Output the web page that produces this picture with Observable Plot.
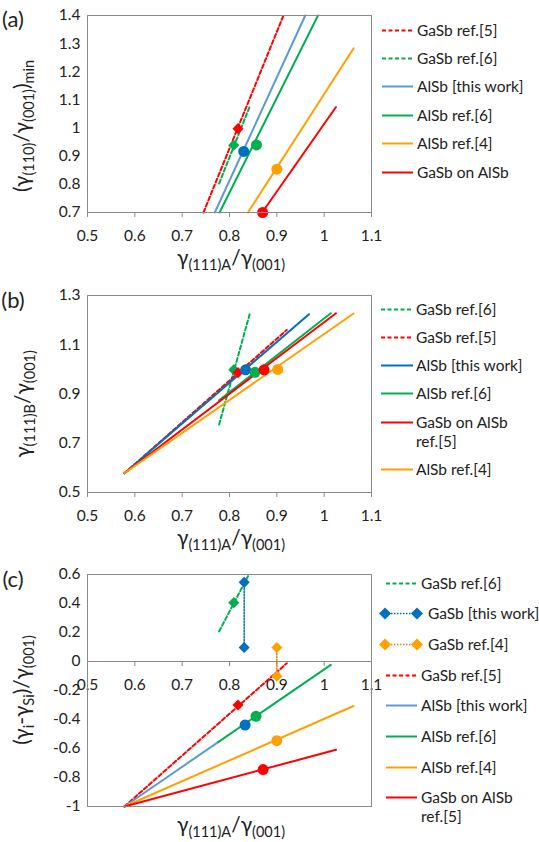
<!DOCTYPE html>
<html><head><meta charset="utf-8">
<script src="https://cdn.jsdelivr.net/npm/d3@7"></script>
<script src="https://cdn.jsdelivr.net/npm/@observablehq/plot@0.6"></script>
<style>
body{margin:0;background:#fff;font-family:Lato,"Liberation Sans",sans-serif;}
#root{position:relative;width:539px;height:842px;overflow:hidden;background:#fff}
.panel{position:absolute;left:0}
.item{position:absolute;display:flex;align-items:flex-start;white-space:nowrap;font-size:15.5px;line-height:19px;color:#222}
.item svg{flex:none}
</style></head><body><div id="root"></div>
<script>
// ---------- data ----------
const xTicks = [0.5, 0.6, 0.7, 0.8, 0.9, 1, 1.1];
const yTicksA = [0.7, 0.8, 0.9, 1, 1.1, 1.2, 1.3, 1.4];
const yTicksB = [0.5, 0.7, 0.9, 1.1, 1.3];
const yTicksC = [-1, -0.8, -0.6, -0.4, -0.2, 0, 0.2, 0.4, 0.6];

// panel (a)
const seriesA = ["GaSb ref.[5]", "GaSb ref.[6]", "AlSb [this work]", "AlSb ref.[6]", "AlSb ref.[4]", "GaSb on AlSb"];
const linesA = [[0.745, 0.70, 0.914, 1.40], [0.778, 0.803, 0.843, 1.078], [0.769, 0.70, 0.960, 1.40], [0.779, 0.70, 0.987, 1.40], [0.839, 0.70, 1.062, 1.283], [0.869, 0.70, 1.025, 1.075]];
const pointsA = [[[0.818, 0.998]], [[0.809, 0.939]], [[0.830, 0.917]], [[0.857, 0.940]], [[0.900, 0.854]], [[0.870, 0.700]]];

// panel (b)
const seriesB = ["GaSb ref.[6]", "GaSb ref.[5]", "AlSb [this work]", "AlSb ref.[6]", "GaSb on AlSb ref.[5]", "AlSb ref.[4]"];
const linesB = [[0.778, 0.776, 0.843, 1.227], [0.578, 0.578, 0.921, 1.160], [0.578, 0.578, 0.968, 1.224], [0.778, 0.874, 1.014, 1.228], [0.578, 0.578, 1.025, 1.228], [0.578, 0.578, 1.062, 1.227]];
const pointsB = [[[0.809, 0.998]], [[0.818, 0.987]], [[0.834, 0.998]], [[0.854, 0.988]], [[0.873, 0.998]], [[0.902, 1.000]]];

// panel (c)
const seriesC = ["GaSb ref.[6]", "GaSb [this work]", "GaSb ref.[4]", "GaSb ref.[5]", "AlSb [this work]", "AlSb ref.[6]", "AlSb ref.[4]", "GaSb on AlSb ref.[5]"];
const linesC = [[0.778, 0.2075, 0.841, 0.60], [0.831, 0.546, 0.831, 0.097], [0.900, 0.097, 0.900, -0.101], [0.578, -1, 0.921, -0.012], [0.578, -1, 0.776, -0.556], [0.776, -0.556, 1.014, -0.023], [0.578, -1, 1.062, -0.307], [0.578, -1, 1.025, -0.609]];
const pointsC = [[[0.809, 0.406]], [[0.831, 0.546], [0.831, 0.097]], [[0.900, 0.097], [0.900, -0.101]], [[0.818, -0.300]], [[0.833, -0.438]], [[0.856, -0.378]], [[0.900, -0.546]], [[0.871, -0.745]]];

// ---------- styles ----------
const RED = "#ff0000", GREEN = "#00b050", LBLUE = "#5b9bd5", DBLUE = "#0070c0", ORANGE = "#ffa000";
const style = {
  "GaSb ref.[5]": {stroke: RED, dash: "4,2.5", fill: RED, symbol: "diamond2", kind: "dash"},
  "GaSb ref.[6]": {stroke: GREEN, dash: "4,2.5", fill: GREEN, symbol: "diamond2", kind: "dash"},
  "AlSb [this work]": {stroke: LBLUE, fill: DBLUE, symbol: "circle", kind: "line"},
  "AlSb ref.[6]": {stroke: GREEN, fill: GREEN, symbol: "circle", kind: "line"},
  "AlSb ref.[4]": {stroke: ORANGE, fill: ORANGE, symbol: "circle", kind: "line"},
  "GaSb on AlSb": {stroke: RED, fill: RED, symbol: "circle", kind: "line"},
  "GaSb on AlSb ref.[5]": {stroke: RED, fill: RED, symbol: "circle", kind: "line"},
  "GaSb [this work]": {stroke: DBLUE, dash: "1.5,1.5", width: 1.5, fill: DBLUE, symbol: "diamond2", kind: "dia"},
  "GaSb ref.[4]": {stroke: "#d98c00", dash: "1.5,1.5", width: 1.5, fill: ORANGE, symbol: "diamond2", kind: "dia"}
};
const overrideB = {"AlSb [this work]": {stroke: DBLUE}};
const st = (s, ov) => Object.assign({}, style[s], (ov || {})[s] || {});

const fmt = d => String(d);
const GRAY = "#8a8a8a";

function seriesMarks(series, lines, points, ov) {
  const lineRows = lines.flatMap((l, i) => [{s: series[i], x: l[0], y: l[1]}, {s: series[i], x: l[2], y: l[3]}]);
  const ptRows = points.flatMap((p, i) => p.map(q => ({s: series[i], x: q[0], y: q[1]})));
  const marks = series.map(s => {
    const o = st(s, ov);
    return Plot.line(lineRows, {filter: d => d.s === s, x: "x", y: "y", stroke: o.stroke, strokeWidth: o.width || 2, strokeDasharray: o.dash || null});
  });
  series.forEach(s => {
    const o = st(s, ov);
    marks.push(Plot.dot(ptRows, {filter: d => d.s === s, x: "x", y: "y", fill: o.fill, stroke: "none", symbol: o.symbol, r: o.symbol === "circle" ? 5.5 : 5}));
  });
  return marks;
}

function richLabel(svg, parts, {x, y, rotate = 0, size = 21, sub = 14.5, shift = 5}) {
  const t = d3.select(svg).append("text")
    .attr("transform", `translate(${x},${y}) rotate(${rotate})`)
    .attr("text-anchor", "middle").attr("font-size", size).attr("fill", "#222");
  let cur = 0;
  for (const [s, isSub] of parts) {
    const want = isSub ? shift : 0;
    t.append("tspan").attr("dy", want - cur).attr("font-size", isSub ? sub : size).text(s);
    cur = want;
  }
}
function letter(svg, s, y) {
  d3.select(svg).append("text").attr("x", 13).attr("y", y).attr("font-size", 22).attr("fill", "#222").text(s);
}

const xLabel = [["γ"], ["(111)A", 1], ["/γ"], ["(001)", 1]];
const yLabelA = [["(γ"], ["(110)", 1], ["/γ"], ["(001)", 1], [")"], ["min", 1]];
const yLabelB = [["γ"], ["(111)B", 1], ["/γ"], ["(001)", 1]];
const yLabelC = [["(γ"], ["i", 1], ["-γ"], ["Si", 1], [")/γ"], ["(001)", 1]];

const root = document.getElementById("root");
const common = {width: 539, marginLeft: 87, marginRight: 168, style: {fontFamily: "Lato, 'Liberation Sans', sans-serif", fontSize: "15.5px", color: "#222", background: "transparent", overflow: "visible"}};

function place(svg, top) {
  const d = document.createElement("div");
  d.className = "panel"; d.style.top = top + "px";
  d.appendChild(svg); root.appendChild(d);
}

// ---------- panel (a) ----------
const svgA = Plot.plot({
  ...common, height: 282, marginTop: 15, marginBottom: 70,
  x: {domain: [0.5, 1.1]},
  y: {domain: [0.7, 1.4]},
  marks: [
    Plot.axisX(xTicks, {tickSize: 5, tickPadding: 12, label: null, stroke: GRAY, tickFormat: fmt}),
    Plot.axisY(yTicksA, {tickSize: 0, tickPadding: 7, label: null, tickFormat: fmt}),
    ...seriesMarks(seriesA, linesA, pointsA),
    Plot.frame({stroke: GRAY})
  ]
});
letter(svgA, "(a)", 27);
richLabel(svgA, yLabelA, {x: 29, y: 126, rotate: -90});
richLabel(svgA, xLabel, {x: 231, y: 265});
place(svgA, 0);

// ---------- panel (b) ----------
const svgB = Plot.plot({
  ...common, height: 278, marginTop: 13, marginBottom: 68,
  x: {domain: [0.5, 1.1]},
  y: {domain: [0.5, 1.3]},
  marks: [
    Plot.axisX(xTicks, {tickSize: 5, tickPadding: 12, label: null, stroke: GRAY, tickFormat: fmt}),
    Plot.axisY(yTicksB, {tickSize: 0, tickPadding: 7, label: null, tickFormat: fmt}),
    ...seriesMarks(seriesB, linesB, pointsB, overrideB),
    Plot.frame({stroke: GRAY})
  ]
});
letter(svgB, "(b)", 26);
richLabel(svgB, yLabelB, {x: 30, y: 122, rotate: -90});
richLabel(svgB, xLabel, {x: 231, y: 263});
place(svgB, 282);

// ---------- panel (c) ----------
const svgC = Plot.plot({
  ...common, height: 282, marginTop: 14, marginBottom: 36,
  x: {domain: [0.5, 1.1], axis: null},
  y: {domain: [-1, 0.6]},
  marks: [
    Plot.axisY(yTicksC, {tickSize: 0, tickPadding: 7, label: null, tickFormat: fmt}),
    Plot.ruleY([0], {stroke: GRAY}),
    Plot.ruleX(xTicks, {x: d => d, y1: 0, y2: 0, insetBottom: -5, stroke: GRAY}),
    Plot.text(xTicks, {x: d => d, y: 0, dy: 24, text: fmt, fill: "#222"}),
    ...seriesMarks(seriesC, linesC, pointsC),
    Plot.frame({stroke: GRAY})
  ]
});
letter(svgC, "(c)", 27);
richLabel(svgC, yLabelC, {x: 29, y: 130, rotate: -90});
richLabel(svgC, xLabel, {x: 231, y: 272});
place(svgC, 560);

// ---------- legends ----------
function legend(series, ov, {start, step, extra, x1, x2, textX, diaX1, diaX2, diaTextX}) {
  let c = start;
  series.forEach(s => {
    const o = st(s, ov);
    const lines = s === "GaSb on AlSb ref.[5]" ? ["GaSb on AlSb", "ref.[5]"] : [s];
    const dia = o.kind === "dia";
    const a = dia ? diaX1 : x1, b = dia ? diaX2 : x2, tx = dia ? diaTextX : textX;
    const div = document.createElement("div");
    div.className = "item";
    div.style.left = (a - 6) + "px";
    div.style.top = (c - 9.5) + "px";
    const w = b - a + 12;
    const svg = d3.create("svg").attr("width", w).attr("height", 19);
    svg.append("line").attr("x1", 6).attr("x2", w - 6).attr("y1", 9.5).attr("y2", 9.5)
      .attr("stroke", o.stroke).attr("stroke-width", o.width || 2).attr("stroke-dasharray", o.dash || null);
    if (dia) {
      for (const px of [6, w - 6]) svg.append("path").attr("d", d3.symbol(d3.symbolDiamond2, 95)()).attr("transform", `translate(${px},9.5)`).attr("fill", o.fill);
    }
    div.appendChild(svg.node());
    const span = document.createElement("span");
    span.style.marginLeft = (tx - b - 6) + "px";
    span.innerHTML = lines.join("<br>");
    div.appendChild(span);
    root.appendChild(div);
    c += step + (lines.length - 1) * extra;
  });
}
legend(seriesA, null, {start: 30, step: 28.4, extra: 18.7, x1: 382, x2: 413, textX: 417, diaX1: 384, diaX2: 417, diaTextX: 428});
legend(seriesB, overrideB, {start: 309, step: 28.3, extra: 18.7, x1: 381, x2: 413, textX: 416, diaX1: 384, diaX2: 417, diaTextX: 428});
legend(seriesC, null, {start: 583, step: 30.7, extra: 19, x1: 386, x2: 417, textX: 421, diaX1: 385, diaX2: 417, diaTextX: 428});
</script></body></html>
